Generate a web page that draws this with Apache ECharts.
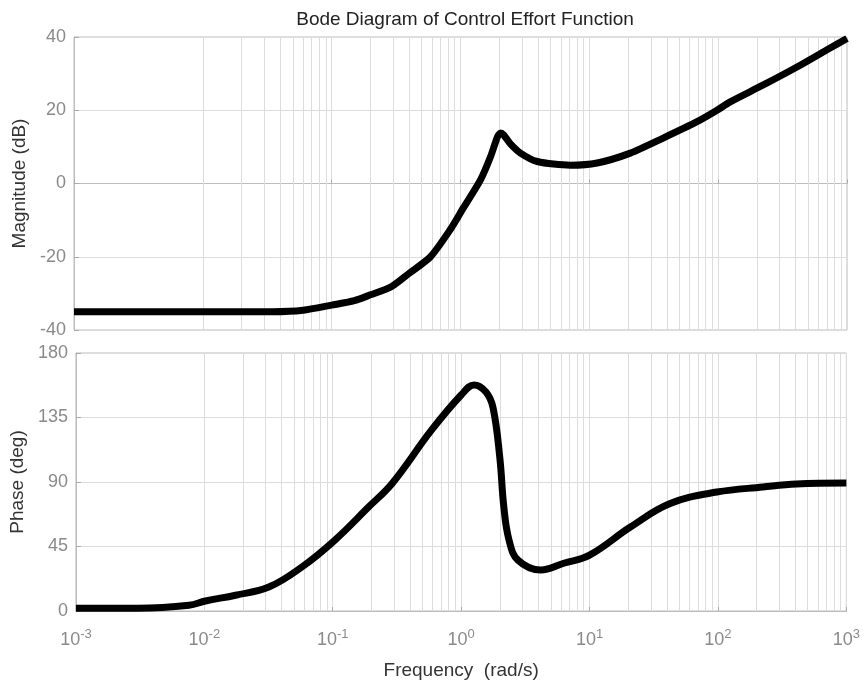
<!DOCTYPE html>
<html>
<head>
<meta charset="utf-8">
<script src="https://cdn.jsdelivr.net/npm/echarts@6/dist/echarts.min.js"></script>
<style>
  html, body { margin: 0; padding: 0; background: #fff; }
  #chart { width: 863px; height: 686px; }
</style>
</head>
<body>
<div id="chart"></div>
<script>
// magnitude curve (rad/s, dB)
const magFreq = [0.001, 0.01, 0.035, 0.06, 0.1, 0.15, 0.2, 0.29, 0.4, 0.585, 0.836, 1.055, 1.43, 1.71, 1.94, 2.05, 2.17, 2.44, 2.92, 3.94, 7.1, 11.5, 20.8, 37.4, 68, 98, 124, 224, 409, 740, 1000]
const magDb = [-35, -35, -35, -34.6, -33.2, -32, -30.4, -28.2, -24.5, -20, -12.5, -6.6, 1, 7.3, 12.8, 13.8, 13.2, 10.8, 8.3, 6, 5, 5.6, 8.3, 12.4, 16.8, 20, 22.3, 26.9, 31.8, 37, 39.6]

// phase curve (rad/s, deg)
const phaseFreq = [0.001, 0.003, 0.0076, 0.0102, 0.0175, 0.0318, 0.0575, 0.104, 0.19, 0.29, 0.585, 1.0, 1.26, 1.56, 1.77, 2.0, 2.15, 2.36, 2.77, 4.17, 6.3, 10, 20.8, 42.4, 98, 224, 409, 1000]
const phaseDeg = [2, 2, 4, 7, 11, 16.7, 30.7, 49.5, 72.5, 89, 126, 150.7, 157.7, 152.8, 142, 107, 72.5, 49.5, 35.5, 28.6, 33.3, 39, 58.6, 75, 83, 86.5, 88.6, 89.3]

const magTicks = { min: -40, max: 40, interval: 20 }
const phaseTicks = { min: 0, max: 180, interval: 45 }

const gridColor = '#dcdcdc'
const labelColor = '#8a8a8a'
const font = 'Liberation Sans'

// minor grid lines 2..9 in every decade
const minorLines = []
for (let d = -3; d < 3; d++) {
  for (let m = 2; m <= 9; m++) {
    minorLines.push({ xAxis: m * Math.pow(10, d) })
  }
}

function pairs(xs, ys) {
  return xs.map((x, i) => [x, ys[i]])
}

function xAxisOf(idx, showLabel) {
  return {
    type: 'log',
    logBase: 10,
    gridIndex: idx,
    min: 0.001,
    max: 1000,
    splitNumber: 6,
    axisLine: { show: true, lineStyle: { color: '#bdbdbd' } },
    axisTick: { show: true, inside: true, length: 4, lineStyle: { color: '#aaa' } },
    splitLine: { show: true, lineStyle: { color: gridColor } },
    axisLabel: {
      show: showLabel,
      margin: 17,
      formatter: v => '{b|10}{s|' + Math.round(Math.log10(v)) + '}',
      rich: {
        b: { fontSize: 18, color: labelColor, fontFamily: font },
        s: { fontSize: 13, color: labelColor, fontFamily: font, verticalAlign: 'top', padding: [0, 0, 12, 0] }
      }
    },
    name: showLabel ? 'Frequency  (rad/s)' : '',
    nameLocation: 'middle',
    nameGap: 50,
    nameTextStyle: { fontSize: 19, color: '#333', fontFamily: font }
  }
}

function yAxisOf(idx, ticks, name, gap) {
  return {
    type: 'value',
    gridIndex: idx,
    min: ticks.min,
    max: ticks.max,
    interval: ticks.interval,
    axisLine: { show: true, lineStyle: { color: '#bdbdbd' } },
    axisTick: { show: true, inside: true, length: 5, lineStyle: { color: '#aaa' } },
    splitLine: { show: true, lineStyle: { color: gridColor } },
    axisLabel: { fontSize: 18, color: labelColor, margin: 8, fontFamily: font },
    name: name,
    nameLocation: 'middle',
    nameGap: gap,
    nameTextStyle: { fontSize: 19, color: '#333', fontFamily: font }
  }
}

function gridLines(idx) {
  return {
    type: 'line',
    xAxisIndex: idx,
    yAxisIndex: idx,
    data: [],
    z: 1,
    silent: true,
    markLine: {
      silent: true,
      symbol: 'none',
      animation: false,
      label: { show: false },
      lineStyle: { color: gridColor, width: 1, type: 'solid' },
      data: minorLines
    }
  }
}

const chart = echarts.init(document.getElementById('chart'))
chart.setOption({
  animation: false,
  title: {
    text: 'Bode Diagram of Control Effort Function',
    left: 460,
    textAlign: 'center',
    top: 5,
    textStyle: { fontSize: 19, fontWeight: 'normal', color: '#222', fontFamily: font }
  },
  grid: [
    { left: 74, right: 16, top: 37, height: 293, show: true, borderColor: '#bdbdbd' },
    { left: 74, right: 16, top: 353, height: 258, show: true, borderColor: '#bdbdbd' }
  ],
  xAxis: [xAxisOf(0, false), xAxisOf(1, true)],
  yAxis: [
    yAxisOf(0, magTicks, 'Magnitude (dB)', 42),
    yAxisOf(1, phaseTicks, 'Phase (deg)', 46)
  ],
  series: [
    gridLines(0),
    gridLines(1),
    {
      name: 'Magnitude',
      type: 'line',
      xAxisIndex: 0,
      yAxisIndex: 0,
      data: pairs(magFreq, magDb),
      showSymbol: false,
      smooth: 0.25,
      z: 5,
      lineStyle: { color: '#000', width: 7 }
    },
    {
      name: 'Phase',
      type: 'line',
      xAxisIndex: 1,
      yAxisIndex: 1,
      data: pairs(phaseFreq, phaseDeg),
      showSymbol: false,
      smooth: 0.4,
      z: 5,
      lineStyle: { color: '#000', width: 7 }
    }
  ]
})
</script>
</body>
</html>
